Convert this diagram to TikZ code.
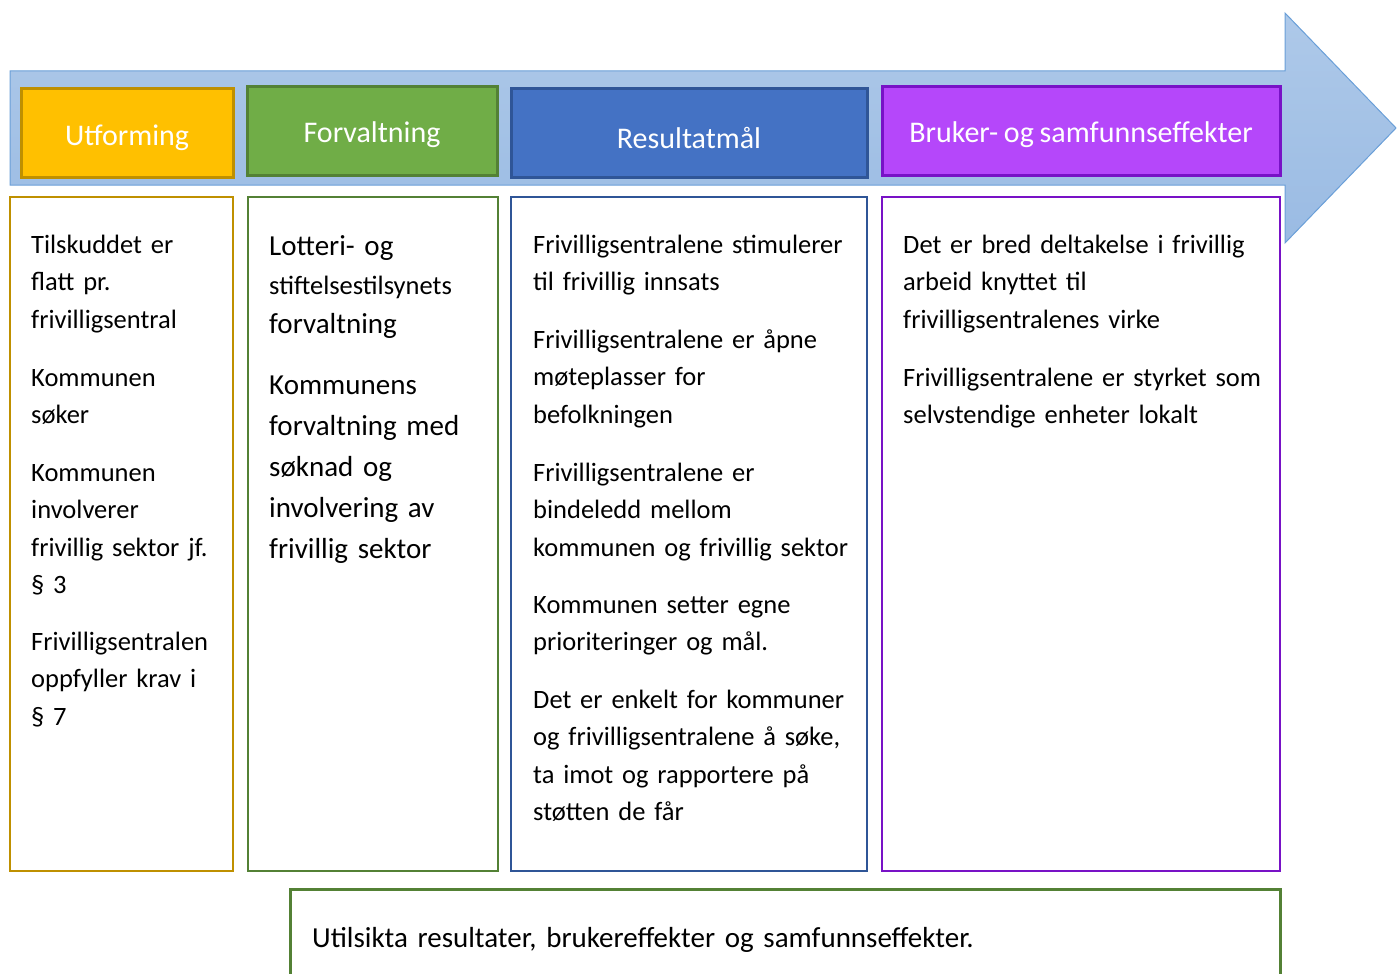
\documentclass[tikz,border=0pt]{standalone}
\usepackage{fontspec}
\setmainfont[WordSpace=0.85]{Carlito}
\definecolor{arrtop}{HTML}{AEC9E9}
\definecolor{arrbot}{HTML}{9ABBE3}
\definecolor{arrline}{HTML}{6A9FD8}
\definecolor{yfill}{HTML}{FFC000}
\definecolor{yline}{HTML}{BF9000}
\definecolor{gfill}{HTML}{70AD47}
\definecolor{gline}{HTML}{538135}
\definecolor{bfill}{HTML}{4472C4}
\definecolor{bline}{HTML}{2F5597}
\definecolor{pfill}{HTML}{B547FA}
\definecolor{pline}{HTML}{7812C6}
\tikzset{
  hdr/.style={draw=#1, line width=3pt},
  cbox/.style={draw=#1, line width=2.5pt, fill=white},
  hdrtext/.style={text=white, font=\fontsize{30}{36}\selectfont, inner sep=0pt},
  body/.style={anchor=base west, inner sep=0pt, text width=#1, align=left,
    font=\fontsize{26.5}{37.5}\selectfont},
  bigbody/.style={anchor=base west, inner sep=0pt, text width=#1, align=left,
    font=\fontsize{29}{41}\selectfont},
}
\begin{document}
\begin{tikzpicture}[x=1pt,y=-1pt]
\useasboundingbox (0,0) rectangle (1397,974);
\clip (0,0) rectangle (1397,974);
% big arrow
\shade[top color=arrtop, bottom color=arrbot, draw=arrline, line width=1pt]
  (10,71) -- (1285,71) -- (1285,13) -- (1396,128) -- (1285,243) -- (1285,185) -- (10,185) -- cycle;
% header boxes
\draw[hdr=yline, fill=yfill] (21,88) rectangle (233,177);
\draw[hdr=gline, fill=gfill] (247,86) rectangle (497,175);
\draw[hdr=bline, fill=bfill] (511,88) rectangle (867,177);
\draw[hdr=pline, fill=pfill] (882,86) rectangle (1280,175);
\node[hdrtext] (h1) at (127,138) {Utforming};
\node[hdrtext] (h2) at (372,135) {Forvaltning};
\node[hdrtext] (h3) at (689,138) {Resultatmål};
\node[hdrtext] (h4) at (1081,135) {Bruker- og samfunnseffekter};
% content boxes
\draw[cbox=yline] (10,197) rectangle (233,871);
\draw[cbox=gline] (248,197) rectangle (498,871);
\draw[cbox=bline] (511,197) rectangle (867,871);
\draw[cbox=pline] (882,197) rectangle (1280,871);
% column 1
\node[body=195pt] (c1a) at (31,253) {Tilskuddet er\\flatt pr.\\frivilligsentral};
\node[body=195pt] (c1b) at (31,386) {Kommunen\\søker};
\node[body=195pt] (c1c) at (31,481) {Kommunen\\involverer\\frivillig sektor jf.\\§ 3};
\node[body=195pt] (c1d) at (31,650) {Frivilligsentralen\\oppfyller krav i\\§ 7};
% column 2
\node[bigbody=225pt] (c2a) at (269,255) {Lotteri- og};
\node[body=225pt] (c2b) at (269,294) {stiftelsestilsynets};
\node[bigbody=225pt] (c2c) at (269,333) {forvaltning};
\node[bigbody=225pt] (c2d) at (269,394) {Kommunens\\forvaltning med\\søknad og\\involvering av\\frivillig sektor};
% column 3
\node[body=330pt] (c3a) at (533,253) {Frivilligsentralene stimulerer\\til frivillig innsats};
\node[body=330pt] (c3b) at (533,348) {Frivilligsentralene er åpne\\møteplasser for\\befolkningen};
\node[body=330pt] (c3c) at (533,481) {Frivilligsentralene er\\bindeledd mellom\\kommunen og frivillig sektor};
\node[body=330pt] (c3d) at (533,613) {Kommunen setter egne\\prioriteringer og mål.};
\node[body=330pt] (c3e) at (533,708) {Det er enkelt for kommuner\\og frivilligsentralene å søke,\\ta imot og rapportere på\\støtten de får};
% column 4
\node[body=370pt] (c4a) at (903,253) {Det er bred deltakelse i frivillig\\arbeid knyttet til\\frivilligsentralenes virke};
\node[body=370pt] (c4b) at (903,386) {Frivilligsentralene er styrket som\\selvstendige enheter lokalt};
% bottom box
\draw[gline, line width=3pt, fill=white] (290,889) rectangle (1280,1000);
\node[bigbody=900pt] (bt) at (312,947) {Utilsikta resultater, brukereffekter og samfunnseffekter.};
\end{tikzpicture}
\end{document}
